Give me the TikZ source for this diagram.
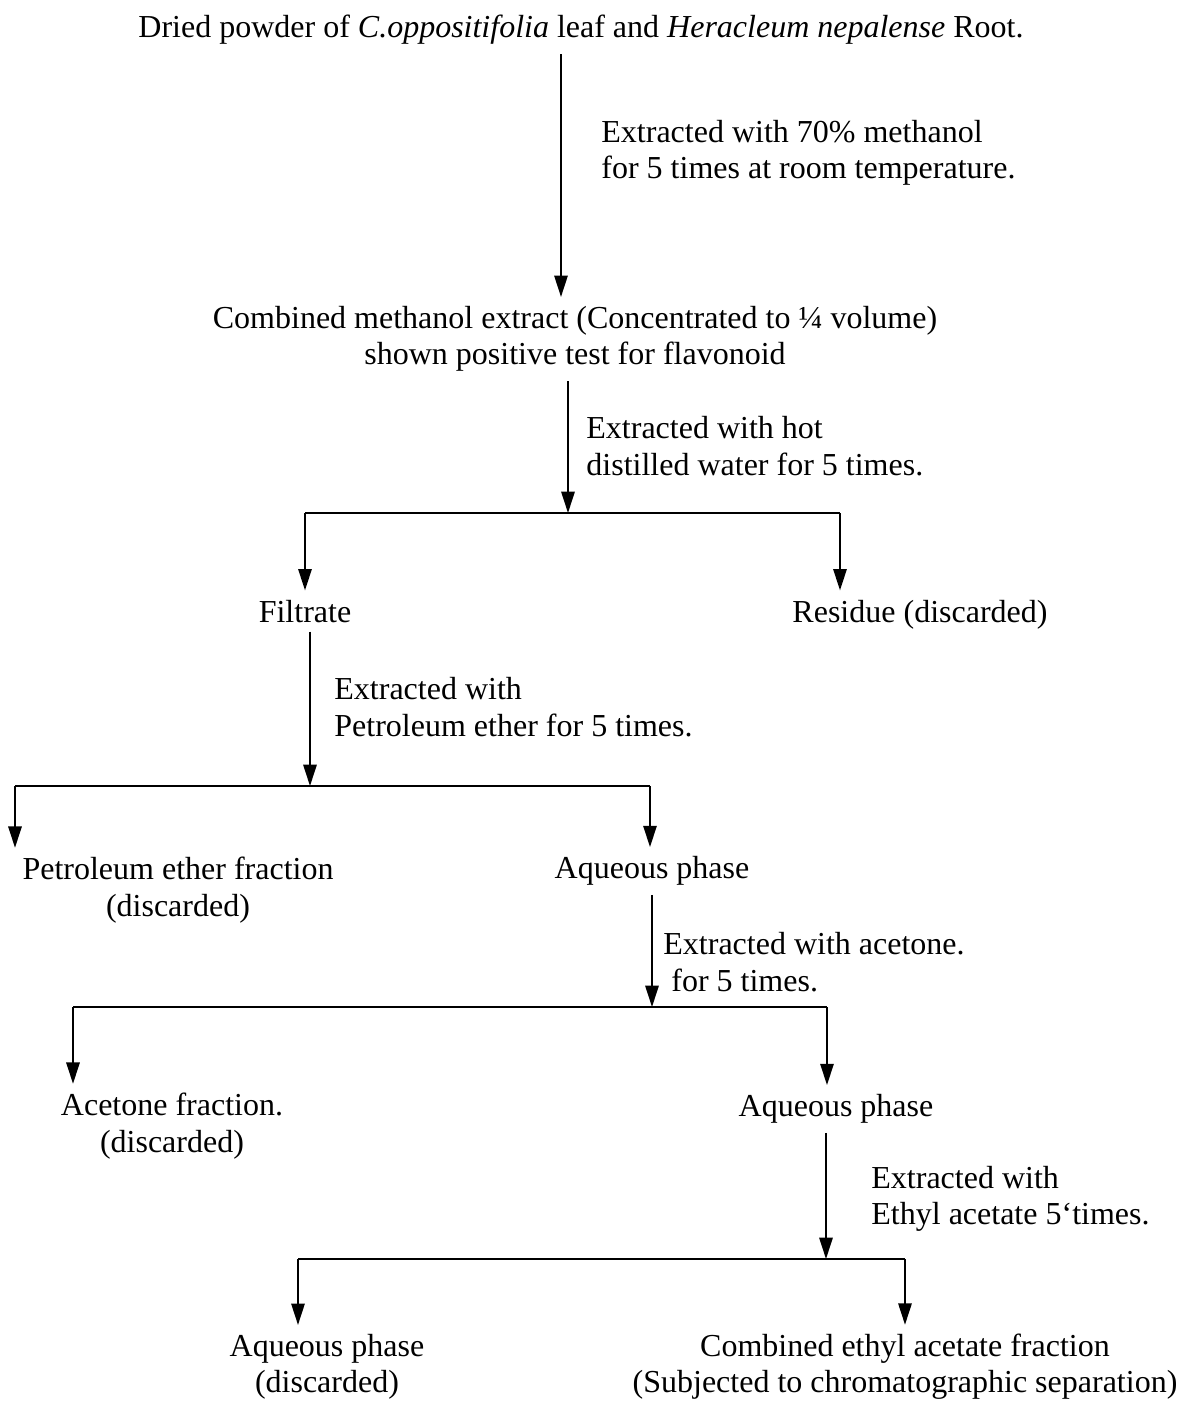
\documentclass[tikz,border=0pt]{standalone}
\usepackage{fontspec}
\setmainfont{Liberation Serif}
\usetikzlibrary{arrows.meta}
\begin{document}
\begin{tikzpicture}[x=0.375pt,y=-0.375pt,
        every node/.style={font=\fontsize{12}{13.6}\selectfont},
        stage/.style={align=center},
        note/.style={anchor=west,align=left},
        flow/.style={-{Triangle[length=8pt,width=5pt]},line width=0.7pt},
        bar/.style={line width=1pt}]
    \useasboundingbox (0,0) rectangle (1202,1402);
    % stages
    \node [stage] (dried) at (581,30) {Dried powder of \textit{C.oppositifolia} leaf and \textit{Heracleum nepalense} Root.};
    \node [stage] (meoh) at (575,339) {Combined methanol extract (Concentrated to ¼ volume)\\shown positive test for flavonoid};
    \node [stage,anchor=base] (filt) at (305,622) {Filtrate};
    \node [stage,anchor=base] (resid) at (920,622) {Residue (discarded)};
    \node [stage] (petf) at (178,890) {Petroleum ether fraction\\(discarded)};
    \node [stage] (aq1) at (652,871) {Aqueous phase};
    \node [stage] (acet) at (172,1126) {Acetone fraction.\\(discarded)};
    \node [stage] (aq2) at (836,1109) {Aqueous phase};
    \node [stage] (aq3) at (327,1367) {Aqueous phase\\(discarded)};
    \node [stage] (ethyl) at (905,1367) {Combined ethyl acetate fraction\\(Subjected to chromatographic separation)};
    % steps
    \node [note] (s1) at (592,153) {Extracted with 70\% methanol\\for 5 times at room temperature.};
    \node [note] (s2) at (577,446) {Extracted with hot\\distilled water for 5 times.};
    \node [note] (s3) at (325,707) {Extracted with\\Petroleum ether for 5 times.};
    \node [note] (s4) at (654,962) {Extracted with acetone.\\\hspace*{3pt}for 5 times.};
    \node [note] (s5) at (862,1199) {Extracted with\\Ethyl acetate 5`times.};
    % junctions
    \coordinate (c0) at (561,0);
    \coordinate (b1) at (568,513);
    \coordinate (b1l) at (305,513);
    \coordinate (b1r) at (840,513);
    \coordinate (b2) at (310,786);
    \coordinate (b2l) at (15,786);
    \coordinate (b2r) at (650,786);
    \coordinate (b3) at (652,1007);
    \coordinate (b3l) at (73,1007);
    \coordinate (b3r) at (827,1007);
    \coordinate (b4) at (826,1259);
    \coordinate (b4l) at (298,1259);
    \coordinate (b4r) at (905,1259);
    % arrows
    \draw [flow] (dried.south -| c0) -- (meoh.north -| c0);
    \draw [flow] (meoh.south -| b1) -- (b1);
    \draw [bar] (b1l) -- (b1r);
    \draw [flow] (b1l) -- (filt);
    \draw [flow] (b1r) -- (b1r |- resid.north);
    \draw [flow] (filt.south -| b2) -- (b2);
    \draw [bar] (b2l) -- (b2r);
    \draw [flow] (b2l) -- (b2l |- petf.north);
    \draw [flow] (b2r) -- (b2r |- aq1.north);
    \draw [flow] (aq1.south -| b3) -- (b3);
    \draw [bar] (b3l) -- (b3r);
    \draw [flow] (b3l) -- (b3l |- acet.north);
    \draw [flow] (b3r) -- (b3r |- aq2.north);
    \draw [flow] (aq2.south -| b4) -- (b4);
    \draw [bar] (b4l) -- (b4r);
    \draw [flow] (b4l) -- (b4l |- aq3.north);
    \draw [flow] (b4r) -- (b4r |- ethyl.north);
\end{tikzpicture}
\end{document}
